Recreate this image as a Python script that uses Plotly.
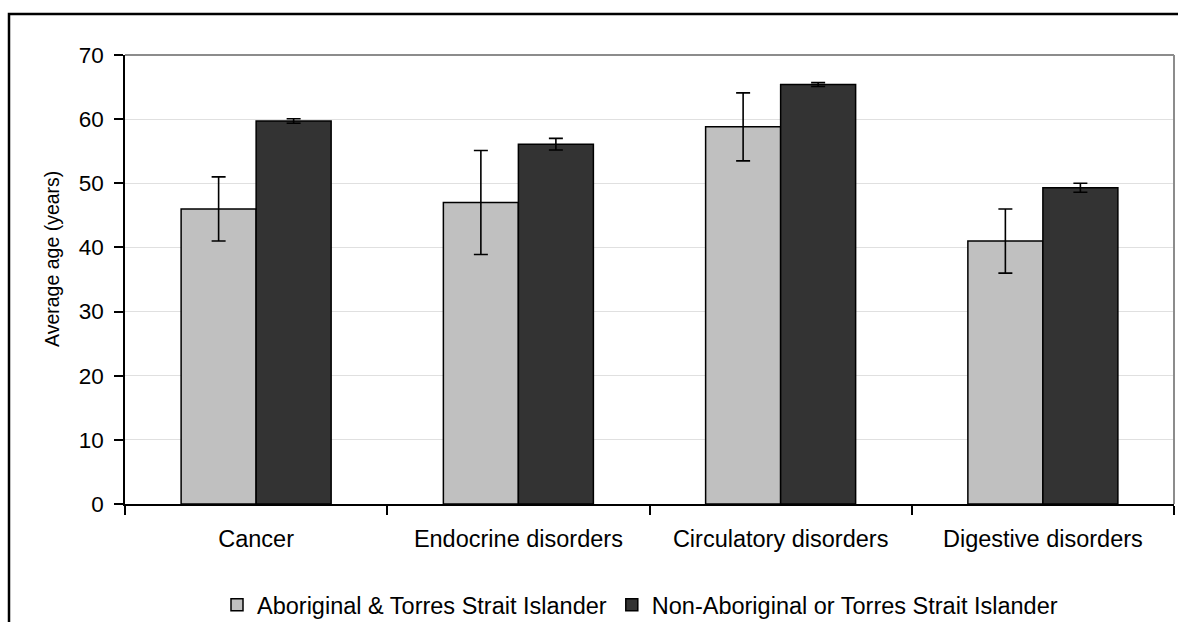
import plotly.graph_objects as go

# Average age by disease group and Indigenous status
categories = ["Cancer", "Endocrine disorders", "Circulatory disorders", "Digestive disorders"]
series_names = ["Aboriginal & Torres Strait Islander", "Non-Aboriginal or Torres Strait Islander"]
indigenous_age = [46.0, 47.0, 58.8, 41.0]
indigenous_err = [5.0, 8.1, 5.3, 5.0]
non_indigenous_age = [59.7, 56.1, 65.4, 49.3]
non_indigenous_err = [0.35, 0.9, 0.3, 0.7]
y_ticks = [0, 10, 20, 30, 40, 50, 60, 70]
y_title = "Average age (years)"

FONT = "Liberation Sans, Arial, sans-serif"

# Canvas and plot-area geometry (pixels)
W, H = 1178, 622
L, R, T, B = 125, 4, 55, 118
pw, ph = W - L - R, H - T - B


def px_x(p):
    return (p - L) / pw


def px_y(p):
    return (H - B - p) / ph


fig = go.Figure()
fig.add_trace(go.Bar(
    x=categories, y=indigenous_age, name=series_names[0],
    marker=dict(color="#c0c0c0", line=dict(color="black", width=1.5)),
    error_y=dict(type="data", array=indigenous_err, visible=True,
                 color="black", thickness=1.6, width=7),
))
fig.add_trace(go.Bar(
    x=categories, y=non_indigenous_age, name=series_names[1],
    marker=dict(color="#333333", line=dict(color="black", width=1.5)),
    error_y=dict(type="data", array=non_indigenous_err, visible=True,
                 color="black", thickness=1.6, width=7),
))

fig.update_layout(
    width=W, height=H,
    margin=dict(l=L, r=R, t=T, b=B, autoexpand=False),
    paper_bgcolor="white", plot_bgcolor="white",
    font=dict(family=FONT, size=22, color="black"),
    barmode="group", bargap=0.428, bargroupgap=0,
    showlegend=True,
    legend=dict(orientation="h", x=px_x(217), xanchor="left",
                y=px_y(605), yanchor="middle",
                font=dict(size=23.5), itemwidth=30,
                bgcolor="rgba(0,0,0,0)", traceorder="normal"),
)

fig.update_xaxes(
    type="category", tickson="boundaries", ticks="outside", ticklen=9,
    tickwidth=1.5, tickcolor="black", showline=True, linecolor="black",
    linewidth=1.5, showgrid=False, tickfont=dict(size=23.5),
    ticklabelstandoff=13, fixedrange=True,
)
fig.update_yaxes(
    range=[0, 70], tickvals=y_ticks, ticks="outside", ticklen=9,
    tickwidth=1.5, tickcolor="black", showline=True, linecolor="black",
    linewidth=1.5, showgrid=True, gridcolor="#e0e0e0", gridwidth=1,
    zeroline=False, tickfont=dict(size=22.5), ticklabelstandoff=6,
    fixedrange=True,
)

# Vertical axis title
fig.add_annotation(text=y_title, textangle=-90, showarrow=False,
                   xref="paper", yref="paper", x=px_x(52), y=px_y(259),
                   xanchor="center", yanchor="middle",
                   font=dict(size=19.5, family=FONT, color="black"))

# Grey frame on the top and right of the plot area
fig.add_shape(type="line", xref="x domain", yref="y domain",
              x0=0, x1=1, y0=1, y1=1, line=dict(color="#8c8c8c", width=2))
fig.add_shape(type="line", xref="x domain", yref="y domain",
              x0=1, x1=1, y0=0, y1=1, line=dict(color="#8c8c8c", width=2))

# Outer chart border
fig.add_shape(type="rect", xref="paper", yref="paper",
              x0=px_x(9), x1=px_x(W + 20), y0=px_y(H + 20), y1=px_y(14),
              line=dict(color="black", width=2.5), fillcolor="rgba(0,0,0,0)",
              layer="below")

fig.write_html("out.html")
